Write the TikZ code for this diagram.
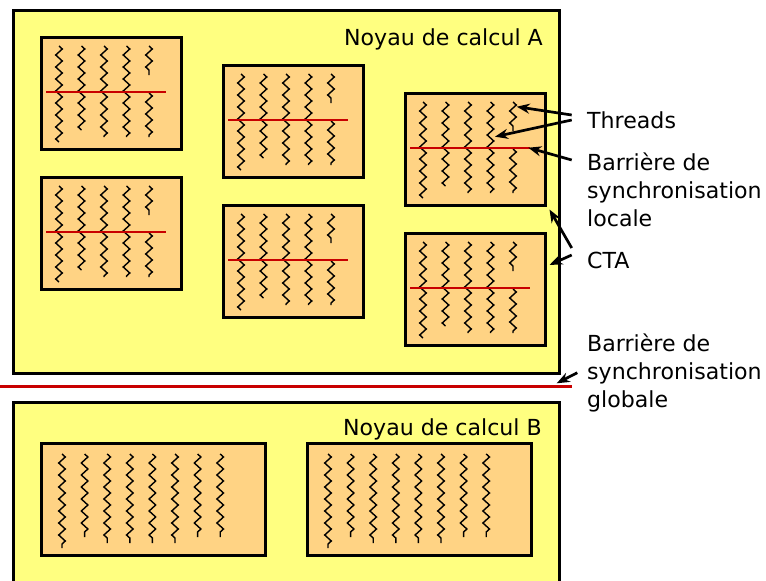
\documentclass[tikz,border=0pt]{standalone}
\usepackage{fontspec}
\setmainfont{DejaVu Sans}
\usetikzlibrary{decorations.pathmorphing,arrows.meta}

\definecolor{kernelfill}{RGB}{255,255,128}
\definecolor{ctafill}{RGB}{255,211,132}
\definecolor{barrierred}{RGB}{200,0,0}

\tikzset{
  kernelbox/.style={draw=black, fill=kernelfill, line width=3pt, inner sep=0pt, anchor=north west},
  ctabox/.style={draw=black, fill=ctafill, line width=2.8pt, minimum width=140pt,
                 minimum height=112pt, inner sep=0pt, anchor=north west},
  thread/.style={line width=1.4pt, decorate,
                 decoration={zigzag, segment length=12pt, amplitude=3.3pt}},
  barrier/.style={draw=barrierred, line width=2.7pt},
  pointer/.style={line width=2.7pt, -{Stealth[length=13pt,width=10pt]}},
  lbl/.style={font=\fontsize{22.1}{28}\selectfont, inner sep=0pt, align=left},
}

% CTA block with five threads and a local barrier
\newcommand\ctabarrier[3]{%
  \node[ctabox] (#1) at (#2,#3) {};
  \begin{scope}[shift={(#2,#3)}]
    \foreach \i/\e in {0/106,1/94,2/101,3/101}
      \draw[thread] (19+22.5*\i,10) -- (19+22.5*\i,\e);
    \draw[thread] (109,10) -- (109,39);
    \draw[thread] (109,57) -- (109,101);
    \draw[barrier] (6,56) -- (126,56);
  \end{scope}}

% wide CTA block with eight threads, no barrier
\newcommand\ctaplain[3]{%
  \node[ctabox, minimum width=224pt] (#1) at (#2,#3) {};
  \begin{scope}[shift={(#2,#3)}]
    \foreach \i/\e in {0/106,1/95,2/101,3/101,4/101,5/101,6/95,7/95}
      \draw[thread] (22+22.6*\i,12) -- (22+22.6*\i,\e);
  \end{scope}}

\begin{document}
\begin{tikzpicture}[x=1pt, y=-1pt]
  \useasboundingbox (0,0) rectangle (766,581);
  \clip (0,0) rectangle (766,581);
  \fill[white] (0,0) rectangle (766,581);

  % kernel A
  \node[kernelbox, minimum width=546pt, minimum height=363pt] (kA) at (12,9) {};
  \node[lbl, anchor=base east] (kAname) at (543,45) {Noyau de calcul A};
  \ctabarrier{c1}{40}{36}
  \ctabarrier{c2}{40}{176}
  \ctabarrier{c3}{222}{64}
  \ctabarrier{c4}{222}{204}
  \ctabarrier{c5}{404}{92}
  \ctabarrier{c6}{404}{232}

  % global barrier
  \coordinate (gbL) at (0,386.7);
  \coordinate (gbR) at (572,386.7);
  \draw[barrier] (gbL) -- (gbR);

  % kernel B
  \node[kernelbox, minimum width=546pt, minimum height=240pt] (kB) at (12,401) {};
  \node[lbl, anchor=base east] (kBname) at (542,435) {Noyau de calcul B};
  \ctaplain{b1}{40}{442}
  \ctaplain{b2}{306}{442}

  % legend texts (base anchor sits on the last line)
  \node[lbl, anchor=base west] (lthreads) at (587,128) {Threads};
  \node[lbl, anchor=base west] (llocal) at (587,226) {Barrière de\\synchronisation\\locale};
  \node[lbl, anchor=base west] (lcta) at (587,268) {CTA};
  \node[lbl, anchor=base west] (lglobal) at (587,407.5) {Barrière de\\synchronisation\\globale};

  % pointer ends
  \coordinate (thrA) at (571.7,115);
  \coordinate (thrB) at (571.7,120);
  \coordinate (thrTipA) at (516.7,106.7);
  \coordinate (thrTipB) at (495,136.7);
  \coordinate (locT) at (571.7,160);
  \coordinate (locTip) at (528.3,147.7);
  \coordinate (ctaA) at (571.7,248);
  \coordinate (ctaB) at (571.7,255);
  \coordinate (gloT) at (577.3,372.7);
  \coordinate (gloTip) at (556.7,383.3);

  \draw[pointer] (thrA) -- (thrTipA);
  \draw[pointer] (thrB) -- (thrTipB);
  \draw[pointer] (locT) -- (locTip);
  \draw[pointer] (ctaA) -- ([shift={(2.7,2.7)}]c5.south east);
  \draw[pointer] (ctaB) -- ([shift={(2.7,0)}]c6.east |- 0,265);
  \draw[pointer] (gloT) -- (gloTip);
\end{tikzpicture}
\end{document}
